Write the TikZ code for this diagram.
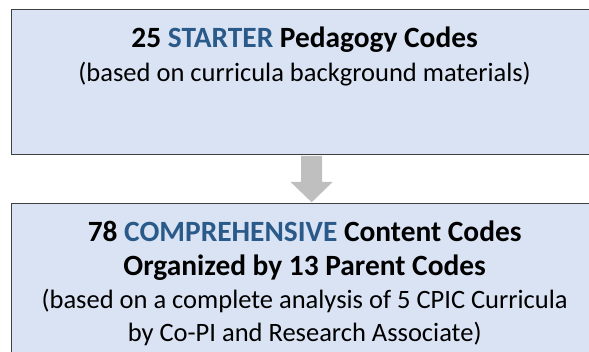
\documentclass[tikz,border=0pt]{standalone}
\usepackage{fontspec}
\setmainfont{Carlito}
\usetikzlibrary{positioning,calc}
\definecolor{boxfill}{HTML}{DAE3F3}
\definecolor{codeblue}{HTML}{2A5A8A}
\definecolor{arrowgray}{HTML}{BFBFBF}
\newcommand{\codehead}{\fontsize{29.4}{33.3}\selectfont\bfseries}

\begin{document}
\begin{tikzpicture}[x=1pt,y=1pt,
  codebox/.style={draw=black!75, line width=1.3pt, fill=boxfill, minimum width=600pt, inner sep=0pt, anchor=north west},
  codetext/.style={align=center, inner sep=0pt, anchor=north, font=\fontsize{26.5}{33.3}\selectfont}]
\useasboundingbox (0,0) rectangle (589,352);
\clip (0,0) rectangle (589,352);
\node[codebox, minimum height=145pt] (starter) at (11,343) {};
\node[codebox, minimum height=170pt] (comprehensive) at (11,149) {};
\node[codetext] (startertext) at ($(starter.north)+(-7,-18)$) {{\codehead 25 \textcolor{codeblue}{STARTER} Pedagogy Codes}\\(based on curricula background materials)};
\node[codetext] (comprehensivetext) at ($(comprehensive.north)+(-7,-18)$) {{\codehead 78 \textcolor{codeblue}{COMPREHENSIVE} Content Codes}\\{\codehead Organized by 13 Parent Codes}\\(based on a complete analysis of 5 CPIC Curricula\\by Co-PI and Research Associate)};
% down arrow between the boxes
\fill[arrowgray] ($(starter.south)+(-10.5,-0.7)$) -- ($(comprehensive.north)+(-10.5,21)$) -- ($(comprehensive.north)+(-21,21)$) -- ($(comprehensive.north)+(0,0.7)$) -- ($(comprehensive.north)+(21,21)$) -- ($(comprehensive.north)+(10.5,21)$) -- ($(starter.south)+(10.5,-0.7)$) -- cycle;
\end{tikzpicture}
\end{document}
